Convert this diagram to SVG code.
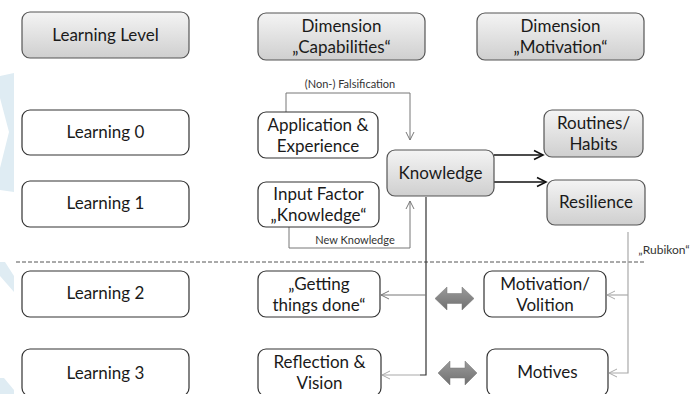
<svg xmlns="http://www.w3.org/2000/svg" width="699" height="394" viewBox="0 0 699 394">
<defs>
<linearGradient id="g" x1="0" y1="0" x2="0" y2="1">
<stop offset="0" stop-color="#f4f4f4"/>
<stop offset="1" stop-color="#cfcfcf"/>
</linearGradient>
<linearGradient id="ga" x1="0" y1="0" x2="0" y2="1">
<stop offset="0" stop-color="#9a9a9a"/>
<stop offset="1" stop-color="#707070"/>
</linearGradient>
<marker id="ah" markerWidth="10" markerHeight="10" refX="9" refY="5" orient="auto" markerUnits="userSpaceOnUse">
<path d="M1,1 L9,5 L1,9" fill="none" stroke="#777" stroke-width="1"/>
</marker>
<marker id="ahl" markerWidth="10" markerHeight="10" refX="9" refY="5" orient="auto" markerUnits="userSpaceOnUse">
<path d="M1,1 L9,5 L1,9" fill="none" stroke="#aaa" stroke-width="1"/>
</marker>
<marker id="ahb" markerWidth="12" markerHeight="12" refX="10" refY="6" orient="auto" markerUnits="userSpaceOnUse">
<path d="M1,1.5 L10,6 L1,10.5" fill="none" stroke="#111" stroke-width="1.6"/>
</marker>
</defs>
<style>
.b{fill:#fff;stroke:#333;stroke-width:1.2}
.h{fill:url(#g);stroke:#555;stroke-width:1.2}
.t{font-family:Lato,"Open Sans",sans-serif;font-size:17px;fill:#1a1a1a;text-anchor:middle}
.s{font-family:Lato,"Open Sans",sans-serif;font-size:11px;fill:#333;text-anchor:middle}
.c{fill:none;stroke:#777;stroke-width:1}
.cl{fill:none;stroke:#aaa;stroke-width:1.2}
.cb{fill:none;stroke:#111;stroke-width:1.6}
.cv{fill:none;stroke:#333;stroke-width:1.2}
.bg{fill:#dfecf3}
.da{fill:url(#ga);stroke:#777;stroke-width:0.5}
</style>
<g id="background">
<polygon class="bg" points="0,76 14,73 14,192 0,190 0,168 9,132 0,98"/>
<polygon class="bg" points="0,262 5,262 14,276 14,292 0,276"/>
<polygon class="bg" points="0,378 4,378 14,390 14,394 0,394"/>
</g>
<g id="divider">
<line x1="16" y1="262" x2="645" y2="262" stroke="#555" stroke-width="1" stroke-dasharray="4,2"/>
</g>
<g id="connectors">
<polyline class="c" points="286,112 286,93 410,93 410,140" marker-end="url(#ah)"/>
<text class="s" x="350" y="88">(Non-) Falsification</text>
<polyline class="c" points="289,227 289,248 410,248 410,201" marker-end="url(#ah)"/>
<text class="s" x="355" y="244">New Knowledge</text>
<line class="cb" x1="494" y1="155" x2="543" y2="155" marker-end="url(#ahb)"/>
<line class="cb" x1="494" y1="182" x2="546" y2="182" marker-end="url(#ahb)"/>
<polyline class="cv" points="426,197 426,375 420,375"/>
<line class="cl" x1="420" y1="375" x2="382" y2="375" marker-end="url(#ahl)"/>
<line class="c" x1="426" y1="295" x2="381" y2="295" marker-end="url(#ah)"/>
<polyline class="cl" points="628,232 628,373 609,373" marker-end="url(#ahl)"/>
<line class="cl" x1="628" y1="295" x2="607" y2="295" marker-end="url(#ahl)"/>
<text class="s" x="664" y="254" style="font-size:12px">„Rubikon“</text>
<polygon class="da" points="435,298.5 447,287 447,293.5 462,293.5 462,287 474,298.5 462,310 462,303.5 447,303.5 447,310"/>
<polygon class="da" points="438,373 450,361 450,368 465,368 465,361 477,373 465,385 465,378 450,378 450,385"/>
</g>
<g id="learning-level"><rect class="h" x="22" y="12" width="167" height="46" rx="8"/><text class="t" x="105.5" y="41">Learning Level</text></g>
<g id="dim-capabilities"><rect class="h" x="258" y="13" width="167" height="47" rx="8"/><text class="t" x="341.5" y="32">Dimension</text><text class="t" x="341.5" y="53">„Capabilities“</text></g>
<g id="dim-motivation"><rect class="h" x="477" y="13" width="167" height="47" rx="8"/><text class="t" x="560.5" y="32">Dimension</text><text class="t" x="560.5" y="53">„Motivation“</text></g>
<g id="learning0"><rect class="b" x="22" y="110" width="167" height="45" rx="8"/><text class="t" x="105.5" y="138">Learning 0</text></g>
<g id="learning1"><rect class="b" x="22" y="181" width="167" height="46" rx="8"/><text class="t" x="105.5" y="209">Learning 1</text></g>
<g id="learning2"><rect class="b" x="22" y="271" width="167" height="46" rx="8"/><text class="t" x="105.5" y="299">Learning 2</text></g>
<g id="learning3"><rect class="b" x="22" y="349" width="167" height="47" rx="8"/><text class="t" x="105.5" y="379">Learning 3</text></g>
<g id="application"><rect class="b" x="258" y="112" width="120" height="46" rx="8"/><text class="t" x="318" y="131">Application &amp;</text><text class="t" x="318" y="152">Experience</text></g>
<g id="input-factor"><rect class="b" x="258" y="182" width="121" height="45" rx="8"/><text class="t" x="318.5" y="200">Input Factor</text><text class="t" x="318.5" y="221">„Knowledge“</text></g>
<g id="getting-things-done"><rect class="b" x="258" y="271" width="122" height="46" rx="8"/><text class="t" x="319" y="290">„Getting</text><text class="t" x="319" y="311">things done“</text></g>
<g id="reflection"><rect class="b" x="258" y="349" width="123" height="47" rx="8"/><text class="t" x="319.5" y="368">Reflection &amp;</text><text class="t" x="319.5" y="389">Vision</text></g>
<g id="knowledge"><rect class="h" x="387" y="150" width="107" height="46" rx="8"/><text class="t" x="440.5" y="179">Knowledge</text></g>
<g id="routines"><rect class="h" x="544" y="110" width="99" height="47" rx="8"/><text class="t" x="593.5" y="129">Routines/</text><text class="t" x="593.5" y="150">Habits</text></g>
<g id="resilience"><rect class="h" x="547" y="180" width="98" height="45" rx="8"/><text class="t" x="596" y="208">Resilience</text></g>
<g id="motivation-volition"><rect class="b" x="484" y="271" width="122" height="46" rx="8"/><text class="t" x="545" y="290">Motivation/</text><text class="t" x="545" y="311">Volition</text></g>
<g id="motives"><rect class="b" x="487" y="349" width="121" height="47" rx="8"/><text class="t" x="547.5" y="378">Motives</text></g>
</svg>
